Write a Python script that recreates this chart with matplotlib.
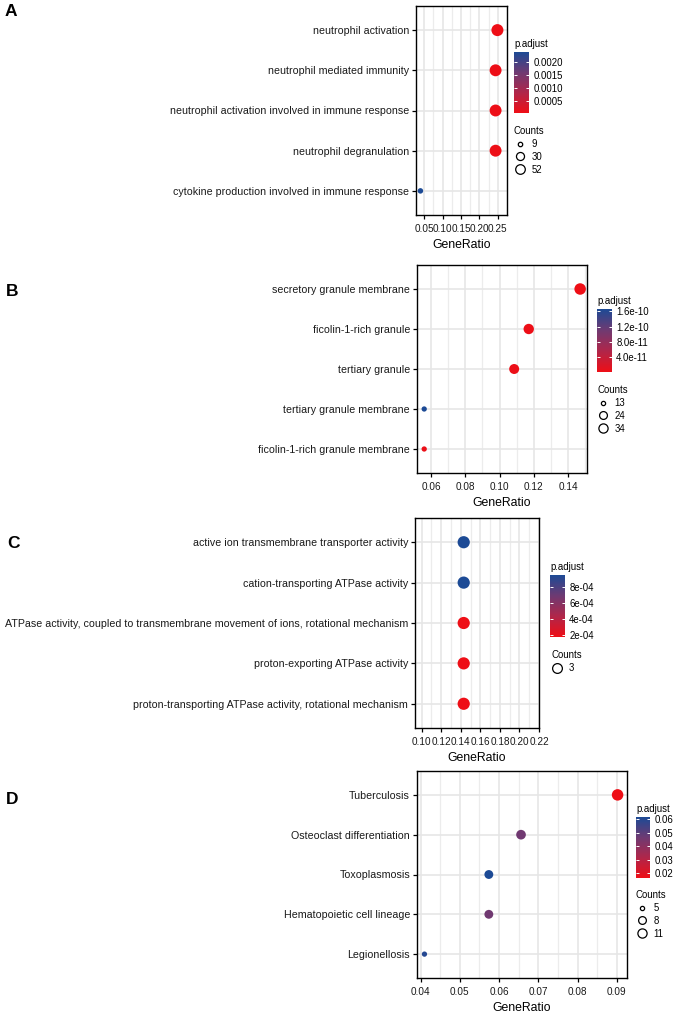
import matplotlib.pyplot as plt
from matplotlib.colors import LinearSegmentedColormap, Normalize
from matplotlib.lines import Line2D
from matplotlib.ticker import MultipleLocator

plt.rcParams["font.family"] = ["Liberation Sans", "DejaVu Sans"]

W, H = 675, 1014
DPI = 100

# A: biological process
a_terms = [
    "neutrophil activation",
    "neutrophil mediated immunity",
    "neutrophil activation involved in immune response",
    "neutrophil degranulation",
    "cytokine production involved in immune response",
]
a_ratio = [0.249, 0.244, 0.244, 0.244, 0.040]
a_count = [52, 51, 51, 51, 9]
a_padj = [0.00004, 0.00005, 0.00005, 0.00006, 0.00238]
a_xticks = [0.05, 0.10, 0.15, 0.20, 0.25]
a_cbar_ticks = [0.0005, 0.0010, 0.0015, 0.0020]
a_cbar_labels = ["0.0005", "0.0010", "0.0015", "0.0020"]
a_count_breaks = [9, 30, 52]

# B: cellular component
b_terms = [
    "secretory granule membrane",
    "ficolin-1-rich granule",
    "tertiary granule",
    "tertiary granule membrane",
    "ficolin-1-rich granule membrane",
]
b_ratio = [0.147, 0.117, 0.1085, 0.056, 0.056]
b_count = [34, 27, 25, 13, 13]
b_padj = [1e-12, 2e-12, 3e-12, 1.66e-10, 4e-12]
b_xticks = [0.06, 0.08, 0.10, 0.12, 0.14]
b_cbar_ticks = [4e-11, 8e-11, 1.2e-10, 1.6e-10]
b_cbar_labels = ["4.0e-11", "8.0e-11", "1.2e-10", "1.6e-10"]
b_count_breaks = [13, 24, 34]

# C: molecular function
c_terms = [
    "active ion transmembrane transporter activity",
    "cation-transporting ATPase activity",
    "ATPase activity, coupled to transmembrane movement of ions, rotational mechanism",
    "proton-exporting ATPase activity",
    "proton-transporting ATPase activity, rotational mechanism",
]
c_ratio = [0.143, 0.143, 0.143, 0.143, 0.143]
c_count = [3, 3, 3, 3, 3]
c_padj = [0.000945, 0.000945, 0.00018, 0.00018, 0.00018]
c_xticks = [0.10, 0.12, 0.14, 0.16, 0.18, 0.20, 0.22]
c_cbar_ticks = [2e-4, 4e-4, 6e-4, 8e-4]
c_cbar_labels = ["2e-04", "4e-04", "6e-04", "8e-04"]
c_count_breaks = [3]

# D: KEGG
d_terms = [
    "Tuberculosis",
    "Osteoclast differentiation",
    "Toxoplasmosis",
    "Hematopoietic cell lineage",
    "Legionellosis",
]
d_ratio = [0.0902, 0.0656, 0.0574, 0.0574, 0.0410]
d_count = [11, 8, 7, 7, 5]
d_padj = [0.0163, 0.046, 0.0617, 0.046, 0.060]
d_xticks = [0.04, 0.05, 0.06, 0.07, 0.08, 0.09]
d_cbar_ticks = [0.02, 0.03, 0.04, 0.05, 0.06]
d_cbar_labels = ["0.02", "0.03", "0.04", "0.05", "0.06"]
d_count_breaks = [5, 8, 11]

CMAP = LinearSegmentedColormap.from_list(
    "padj", ["#EE0E16", "#B0264A", "#6E3A72", "#1C4A95"]
)
PX = 72.0 / DPI  # points per pixel


def fig_rect(x0, y0, x1, y1):
    return [x0 / W, 1 - y1 / H, (x1 - x0) / W, (y1 - y0) / H]


def dot_px(count, cmin, cmax, dmax):
    # area-like size scale, smallest dot about half the biggest
    t = 0.5 if cmax == cmin else (count - cmin) / (cmax - cmin)
    return dmax * (0.46 + 0.54 * t ** 0.5)


def draw_panel(fig, letter, box, terms, ratio, count, padj, xlim, xticks,
               minor, cbox, cticks, clabels, breaks, legend_xy, letter_xy, dmax=12):
    ax = fig.add_axes(fig_rect(*box))
    n = len(terms)
    ypos = list(range(n, 0, -1))
    cmin, cmax = min(count), max(count)
    sizes = [(dot_px(c, cmin, cmax, dmax) * PX) ** 2 for c in count]
    norm = Normalize(min(padj), max(padj))
    sc = ax.scatter(ratio, ypos, s=sizes, c=padj, cmap=CMAP, norm=norm,
                    linewidths=0, zorder=3)
    ax.set_xlim(*xlim)
    ax.set_ylim(0.4, n + 0.6)
    ax.set_yticks(ypos)
    ax.set_yticklabels(terms)
    ax.set_xticks(xticks)
    ax.set_xticklabels(["{:.2f}".format(v) for v in xticks])
    ax.xaxis.set_minor_locator(MultipleLocator(minor))
    ax.set_axisbelow(True)
    ax.grid(which="major", color="#E6E6E6", lw=1.2)
    ax.grid(which="minor", axis="x", color="#ECECEC", lw=0.9)
    ax.tick_params(which="major", length=3, width=0.9, color="black",
                   labelcolor="#1A1A1A", pad=2)
    ax.tick_params(axis="y", labelsize=7.65)
    ax.tick_params(axis="x", labelsize=7.2, pad=3.5)
    ax.tick_params(which="minor", length=0)
    for sp in ax.spines.values():
        sp.set_linewidth(1.0)
        sp.set_color("black")
    ax.set_xlabel("GeneRatio", fontsize=8.8, labelpad=3.5)

    cax = fig.add_axes(fig_rect(*cbox))
    cb = fig.colorbar(sc, cax=cax)
    cb.outline.set_visible(False)
    cb.set_ticks(cticks)
    cb.set_ticklabels(clabels)
    cax.yaxis.set_ticks_position("both")
    cax.tick_params(direction="in", color="white", length=2.0, width=0.7,
                    labelsize=6.9, pad=3)
    fig.text(cbox[0] / W, 1 - (cbox[1] - 3) / H, "p.adjust", fontsize=6.9,
             ha="left", va="bottom")

    handles = [
        Line2D([], [], marker="o", linestyle="", markerfacecolor="none",
               markeredgecolor="black", markeredgewidth=0.9,
               markersize=dot_px(b, min(breaks), max(breaks), dmax) * 0.8 * PX)
        for b in breaks
    ]
    fig.legend(handles, [str(b) for b in breaks], title="Counts",
               loc="upper left", bbox_to_anchor=(legend_xy[0] / W, 1 - legend_xy[1] / H),
               frameon=False, fontsize=6.9, title_fontsize=6.9, alignment="left",
               borderpad=0, borderaxespad=0, handlelength=1.2, handletextpad=0.6,
               labelspacing=0.3)
    fig.text(letter_xy[0] / W, 1 - letter_xy[1] / H, letter, fontsize=12.5,
             fontweight="bold", ha="left", va="center")
    return ax


fig = plt.figure(figsize=(W / DPI, H / DPI), dpi=DPI)

draw_panel(fig, "A", (416, 6, 507, 215), a_terms, a_ratio, a_count, a_padj,
           (0.028, 0.275), a_xticks, 0.025,
           (514, 52, 529, 113), a_cbar_ticks, a_cbar_labels, a_count_breaks,
           (514, 126), (5, 12))
draw_panel(fig, "B", (417, 265, 587, 473), b_terms, b_ratio, b_count, b_padj,
           (0.0518, 0.151), b_xticks, 0.01,
           (597, 309, 612, 372), b_cbar_ticks, b_cbar_labels, b_count_breaks,
           (597, 385), (6, 291), dmax=11.5)
draw_panel(fig, "C", (415, 518, 539, 728), c_terms, c_ratio, c_count, c_padj,
           (0.0932, 0.2195), c_xticks, 0.01,
           (550, 575, 565, 637), c_cbar_ticks, c_cbar_labels, c_count_breaks,
           (551, 650), (7, 543), dmax=14.5)
draw_panel(fig, "D", (417, 771, 627, 978), d_terms, d_ratio, d_count, d_padj,
           (0.0391, 0.0926), d_xticks, 0.005,
           (636, 817, 650, 878), d_cbar_ticks, d_cbar_labels, d_count_breaks,
           (636, 890), (6, 800), dmax=11.5)

fig.savefig("out.png", dpi=DPI)
